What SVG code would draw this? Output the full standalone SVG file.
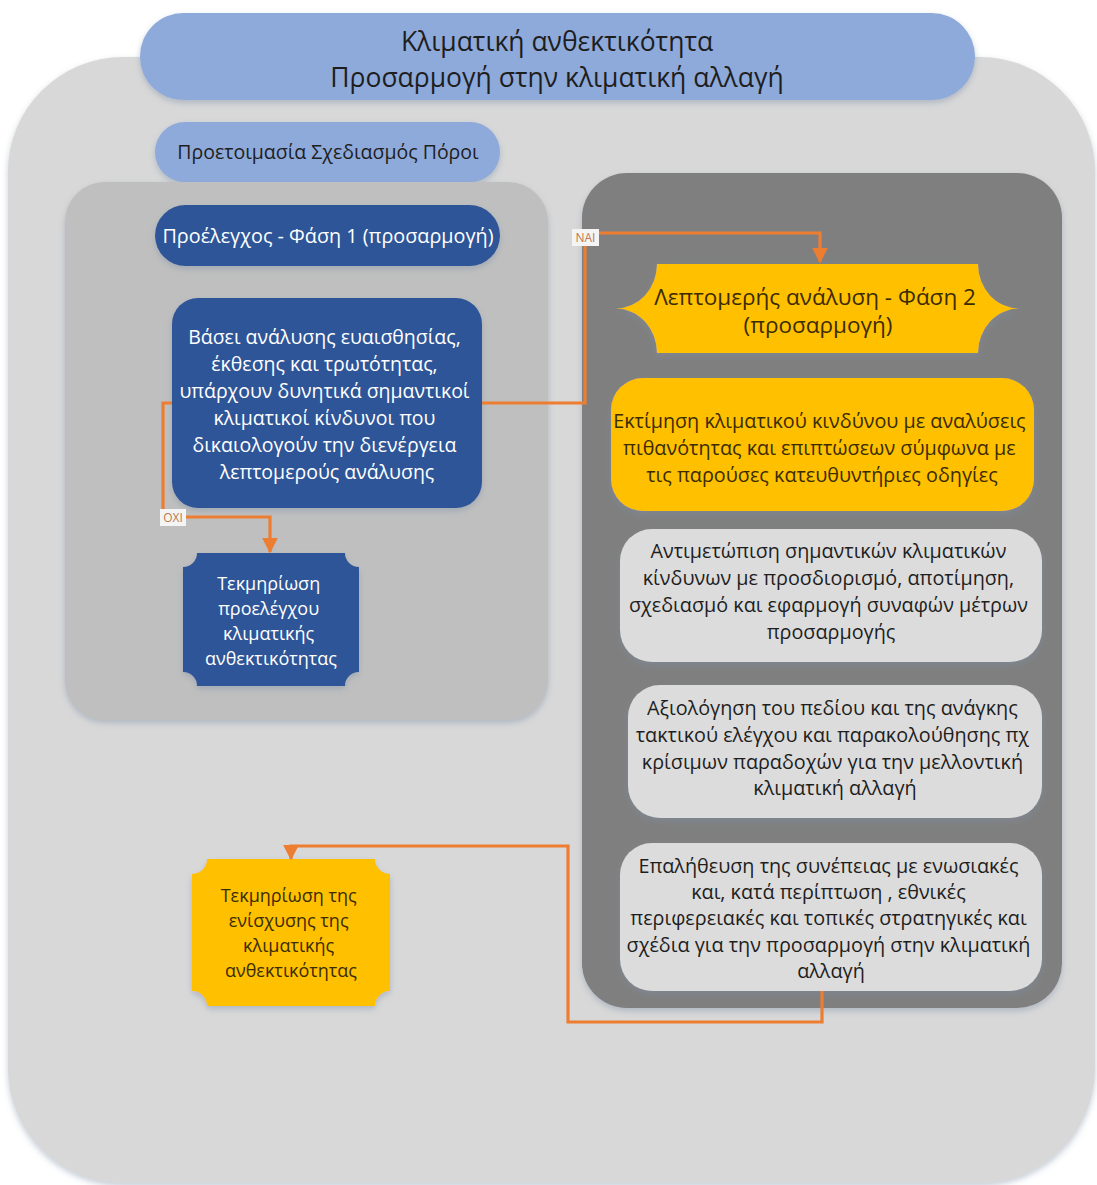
<svg xmlns="http://www.w3.org/2000/svg" width="1097" height="1185" viewBox="0 0 1097 1185">
<defs>
  <filter id="sh" x="-10%" y="-10%" width="120%" height="130%">
    <feDropShadow dx="0" dy="3" stdDeviation="3" flood-color="#7f8fa8" flood-opacity="0.45"/>
  </filter>
  <marker id="arr" viewBox="0 0 10 10" refX="9" refY="5" markerWidth="5" markerHeight="5" orient="auto" markerUnits="strokeWidth">
    <path d="M0,0 L10,5 L0,10 Z" fill="#ed7d31"/>
  </marker>
</defs>
<style>
  text { font-family: "Open Sans", "Noto Sans", "DejaVu Sans", sans-serif; text-anchor: middle; }
  .w { fill: #ffffff; }
  .d { fill: #1e1e1e; }
  .y { fill: #3a2c00; }
  .t19 { font-size: 19.5px; }
  .t20 { font-size: 19.8px; }
  .conn { fill: none; stroke: #ed7d31; stroke-width: 3.2; }
  .lbl { font-size: 12px; fill: #c0784e; }
</style>
<rect width="1097" height="1185" fill="#ffffff"/>
<g id="outer">
  <rect x="8" y="57" width="1087" height="1126" rx="115" fill="#d8d8d8" filter="url(#sh)"/>
</g>
<g id="title">
  <rect x="140" y="13" width="835" height="87" rx="43.5" fill="#8eaadb" filter="url(#sh)"/>
  <text x="557" y="51" font-size="26.5" fill="#1e1e1e">Κλιματική ανθεκτικότητα</text>
  <text x="557" y="87" font-size="26.5" fill="#1e1e1e">Προσαρμογή στην κλιματική αλλαγή</text>
</g>
<g id="prep">
  <rect x="155" y="122" width="345" height="60" rx="30" fill="#8eaadb" filter="url(#sh)"/>
  <text x="328" y="159" class="t19 d">Προετοιμασία Σχεδιασμός Πόροι</text>
</g>
<g id="left-panel">
  <rect x="65" y="182" width="483" height="538" rx="40" fill="#bfbfbf" filter="url(#sh)"/>
</g>
<g id="right-panel">
  <rect x="582" y="173" width="480" height="835" rx="45" fill="#7f7f7f" filter="url(#sh)"/>
</g>
<g id="phase1">
  <rect x="155" y="205" width="345" height="61" rx="30.5" fill="#2f5597" filter="url(#sh)"/>
  <text x="328" y="243" class="t20 w">Προέλεγχος - Φάση 1 (προσαρμογή)</text>
</g>
<g id="decision">
  <rect x="172" y="298" width="310" height="210" rx="26" fill="#2f5597" filter="url(#sh)"/>
  <text class="t19 w">
    <tspan x="327" y="344">Βάσει ανάλυσης ευαισθησίας,</tspan>
    <tspan x="327" y="371">έκθεσης και τρωτότητας,</tspan>
    <tspan x="327" y="398">υπάρχουν δυνητικά σημαντικοί</tspan>
    <tspan x="327" y="425">κλιματικοί κίνδυνοι που</tspan>
    <tspan x="327" y="452">δικαιολογούν την διενέργεια</tspan>
    <tspan x="327" y="479">λεπτομερούς ανάλυσης</tspan>
  </text>
</g>
<g id="doc1">
  <path d="M197,553 H345 A14,14 0 0 0 359,567 V672 A14,14 0 0 0 345,686 H197 A14,14 0 0 0 183,672 V567 A14,14 0 0 0 197,553 Z" fill="#2f5597" filter="url(#sh)"/>
  <text class="w" font-size="18">
    <tspan x="271" y="590">Τεκμηρίωση</tspan>
    <tspan x="271" y="615">προελέγχου</tspan>
    <tspan x="271" y="640">κλιματικής</tspan>
    <tspan x="271" y="665">ανθεκτικότητας</tspan>
  </text>
</g>
<g id="phase2">
  <path d="M657,264 H978 A41,44.5 0 0 0 1019,308.5 A41,44.5 0 0 0 978,353 H657 A41,44.5 0 0 0 616,308.5 A41,44.5 0 0 0 657,264 Z" fill="#ffc000" filter="url(#sh)"/>
  <text class="y" font-size="22.5">
    <tspan x="818" y="305">Λεπτομερής ανάλυση - Φάση 2</tspan>
    <tspan x="818" y="333">(προσαρμογή)</tspan>
  </text>
</g>
<g id="risk">
  <rect x="611" y="378" width="423" height="133" rx="32" fill="#ffc000" filter="url(#sh)"/>
  <text class="y t20">
    <tspan x="822" y="428">Εκτίμηση κλιματικού κινδύνου με αναλύσεις</tspan>
    <tspan x="822" y="455">πιθανότητας και επιπτώσεων σύμφωνα με</tspan>
    <tspan x="822" y="482">τις παρούσες κατευθυντήριες οδηγίες</tspan>
  </text>
</g>
<g id="measures">
  <rect x="620" y="529" width="422" height="133" rx="32" fill="#dcdcdc" filter="url(#sh)"/>
  <text class="d t20">
    <tspan x="831" y="558">Αντιμετώπιση σημαντικών κλιματικών</tspan>
    <tspan x="831" y="585">κίνδυνων με προσδιορισμό, αποτίμηση,</tspan>
    <tspan x="831" y="612">σχεδιασμό και εφαρμογή συναφών μέτρων</tspan>
    <tspan x="831" y="639">προσαρμογής</tspan>
  </text>
</g>
<g id="monitoring">
  <rect x="628" y="685" width="414" height="133" rx="32" fill="#dcdcdc" filter="url(#sh)"/>
  <text class="d t20">
    <tspan x="835" y="715">Αξιολόγηση του πεδίου και της ανάγκης</tspan>
    <tspan x="835" y="742">τακτικού ελέγχου και παρακολούθησης πχ</tspan>
    <tspan x="835" y="769">κρίσιμων παραδοχών για την μελλοντική</tspan>
    <tspan x="835" y="795">κλιματική αλλαγή</tspan>
  </text>
</g>
<g id="consistency">
  <rect x="620" y="843" width="422" height="148" rx="32" fill="#dcdcdc" filter="url(#sh)"/>
  <text class="d t20">
    <tspan x="831" y="873">Επαλήθευση της συνέπειας με ενωσιακές</tspan>
    <tspan x="831" y="899">και, κατά περίπτωση , εθνικές</tspan>
    <tspan x="831" y="925">περιφερειακές και τοπικές στρατηγικές και</tspan>
    <tspan x="831" y="952">σχέδια για την προσαρμογή στην κλιματική</tspan>
    <tspan x="831" y="978">αλλαγή</tspan>
  </text>
</g>
<g id="doc2">
  <path d="M207,859 H375 A15,15 0 0 0 390,874 V991 A15,15 0 0 0 375,1006 H207 A15,15 0 0 0 192,991 V874 A15,15 0 0 0 207,859 Z" fill="#ffc000" filter="url(#sh)"/>
  <text class="y" font-size="18">
    <tspan x="291" y="902">Τεκμηρίωση της</tspan>
    <tspan x="291" y="927">ενίσχυσης της</tspan>
    <tspan x="291" y="952">κλιματικής</tspan>
    <tspan x="291" y="977">ανθεκτικότητας</tspan>
  </text>
</g>
<g id="connectors">
  <path class="conn" d="M482,403 H585 V233 H820 V262" marker-end="url(#arr)"/>
  <path class="conn" d="M172,403 H163 V517 H270 V552" marker-end="url(#arr)"/>
  <path class="conn" d="M822,991 V1022 H568 V846 H291 V859" marker-end="url(#arr)"/>
  <rect x="572" y="229" width="27" height="17" fill="#f4f4f4"/>
  <text x="585.5" y="242" class="lbl">ΝΑΙ</text>
  <rect x="160" y="509" width="26" height="17" fill="#f4f4f4"/>
  <text x="173" y="522" class="lbl">ΟΧΙ</text>
</g>
</svg>
